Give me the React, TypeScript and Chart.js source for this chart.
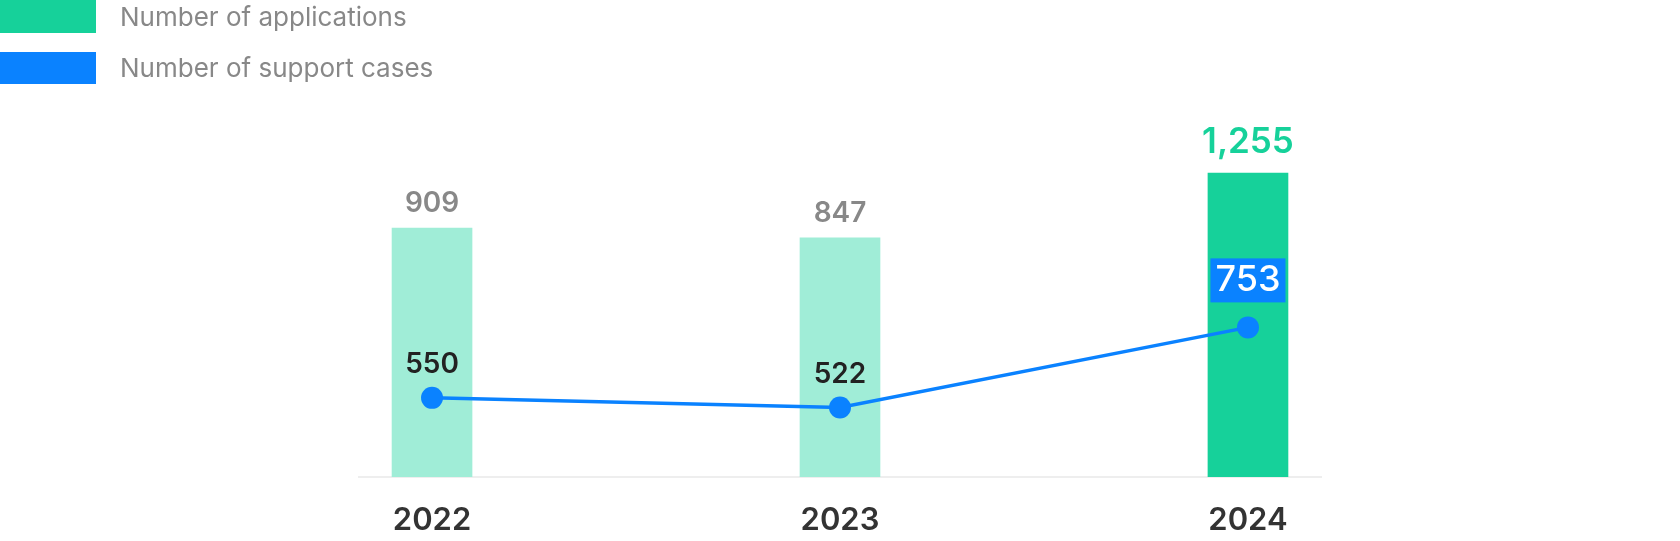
import React, { useEffect, useRef } from "react";
import { Chart, registerables } from "chart.js";

Chart.register(...registerables);

const YEARS = ["2022", "2023", "2024"];
const APPLICATIONS = [909, 847, 1255];
const SUPPORT_CASES = [550, 522, 753];
const HIGHLIGHT_INDEX = 2;

const SERIES_NAMES = ["Number of applications", "Number of support cases"];

const GREEN = "#16D19A";
const GREEN_LIGHT = "#A0EDD7";
const BLUE = "#0A82FF";
const FONT = "Inter, 'Noto Sans', sans-serif";

const labelPlugin = {
  id: "valueLabels",
  afterDatasetsDraw(chart: any) {
    const ctx = chart.ctx;
    ctx.save();
    ctx.textAlign = "center";
    ctx.textBaseline = "alphabetic";
    const barMeta = chart.getDatasetMeta(0);
    barMeta.data.forEach((el: any, i: number) => {
      const hi = i === HIGHLIGHT_INDEX;
      ctx.font = hi ? `600 35px ${FONT}` : `600 28px ${FONT}`;
      ctx.fillStyle = hi ? GREEN : "#888888";
      ctx.fillText(APPLICATIONS[i].toLocaleString("en-US"), el.x, el.y - (hi ? 20 : 16));
    });
    const lineMeta = chart.getDatasetMeta(1);
    lineMeta.data.forEach((el: any, i: number) => {
      const hi = i === HIGHLIGHT_INDEX;
      const text = SUPPORT_CASES[i].toLocaleString("en-US");
      if (hi) {
        ctx.font = `500 36px ${FONT}`;
        const w = ctx.measureText(text).width + 10;
        ctx.fillStyle = BLUE;
        ctx.fillRect(el.x - w / 2, el.y - 69, w, 44);
        ctx.fillStyle = "#FFFFFF";
        ctx.fillText(text, el.x, el.y - 36);
      } else {
        ctx.font = `600 28px ${FONT}`;
        ctx.fillStyle = "#222222";
        ctx.fillText(text, el.x, el.y - 25);
      }
    });
    ctx.restore();
  },
};

export default function App() {
  const canvasRef = useRef<HTMLCanvasElement | null>(null);

  useEffect(() => {
    let chart: Chart | null = null;
    let cancelled = false;
    const make = () => {
      if (cancelled || !canvasRef.current) return;
      chart = new Chart(canvasRef.current, {
        type: "bar",
        data: {
          datasets: [
            {
              type: "bar",
              label: SERIES_NAMES[0],
              data: APPLICATIONS.map((v, i) => ({ x: i, y: v })),
              backgroundColor: APPLICATIONS.map((_, i) => (i === HIGHLIGHT_INDEX ? GREEN : GREEN_LIGHT)),
              barThickness: 80,
              base: -657,
              yAxisID: "y",
              order: 2,
            } as any,
            {
              type: "line",
              label: SERIES_NAMES[1],
              data: SUPPORT_CASES.map((v, i) => ({ x: i, y: v })),
              borderColor: BLUE,
              backgroundColor: BLUE,
              borderWidth: 3.5,
              pointRadius: 11,
              pointBorderWidth: 0,
              pointBackgroundColor: BLUE,
              tension: 0,
              yAxisID: "y1",
              order: 1,
            } as any,
          ],
        },
        options: {
          responsive: false,
          animation: false,
          layout: { padding: { left: 359, right: 359, top: 100, bottom: 0 } },
          plugins: { legend: { display: false }, tooltip: { enabled: false } },
          scales: {
            x: {
              type: "linear",
              min: -0.179,
              max: 2.179,
              offset: false,
              grid: { display: false, drawTicks: false },
              border: { display: true, color: "#EEEEEE", width: 2 },
              afterBuildTicks: (scale: any) => {
                scale.ticks = YEARS.map((_, i) => ({ value: i }));
              },
              afterFit: (scale: any) => {
                scale.height = 64;
              },
              ticks: {
                padding: 25,
                maxRotation: 0,
                autoSkip: false,
                color: "#333333",
                font: { family: FONT, size: 31, weight: "600" },
                callback: (v: any) => YEARS[v] ?? "",
              },
            },
            y: { display: false, min: -657, max: 1714 },
            y1: { display: false, min: 322, max: 1408 },
          },
        } as any,
        plugins: [labelPlugin],
      });
    };
    const fonts = (document as any).fonts;
    if (fonts && fonts.load) {
      Promise.all([
        fonts.load(`600 31px Inter`),
        fonts.load(`500 28px Inter`),
        fonts.load(`400 26px Inter`),
      ])
        .catch(() => undefined)
        .then(make);
    } else {
      make();
    }
    return () => {
      cancelled = true;
      if (chart) chart.destroy();
    };
  }, []);

  const legendColors = [GREEN, BLUE];
  return (
    <div style={{ position: "fixed", left: 0, top: 0, width: 1680, height: 541, background: "#fff" }}>
      <canvas ref={canvasRef} width={1680} height={541} style={{ position: "absolute", left: 0, top: 0 }} />
      {SERIES_NAMES.map((name, i) => (
        <div
          key={name}
          style={{
            position: "absolute",
            left: 0,
            top: i === 0 ? 0 : 51,
            height: 33,
            display: "flex",
            alignItems: "center",
            fontFamily: FONT,
            fontSize: 26,
            color: "#888888",
            whiteSpace: "nowrap",
          }}
        >
          <span style={{ display: "inline-block", width: 96, height: i === 0 ? 33 : 32, background: legendColors[i], marginRight: 24 }} />
          <span>{name}</span>
        </div>
      ))}
    </div>
  );
}
